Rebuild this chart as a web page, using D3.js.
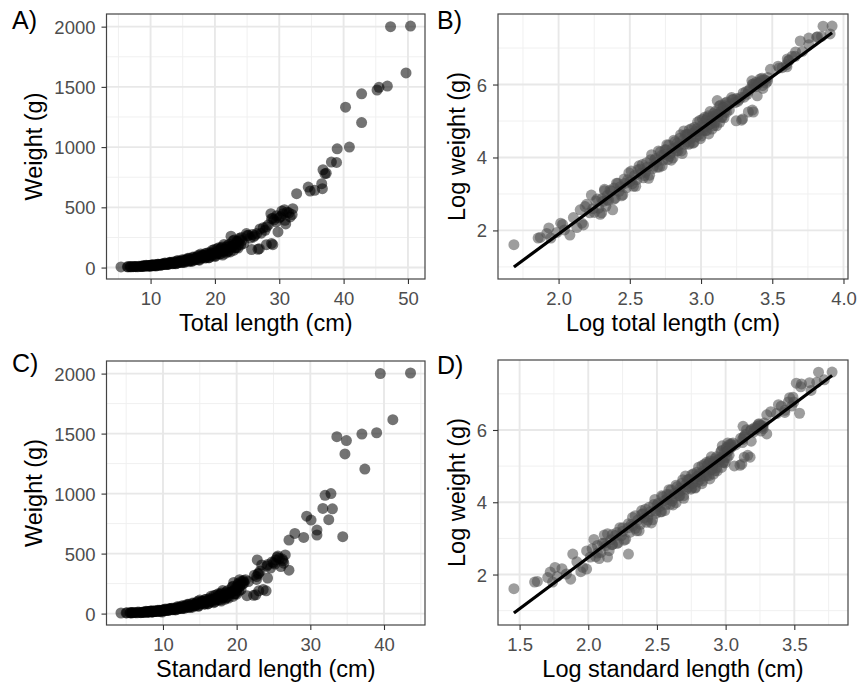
<!DOCTYPE html>
<html>
<head>
<meta charset="utf-8">
<script src="https://cdnjs.cloudflare.com/ajax/libs/d3/7.8.5/d3.min.js"></script>
<style>
  body { margin: 0; background: #fff; }
  svg text { font-family: "Liberation Sans", Arial, sans-serif; }
</style>
</head>
<body>
<svg id="chart" width="858" height="687"></svg>
<script>
/* one entry per fish, same order in the three arrays */
var totalLength = [
  5.4, 6.4, 6.5, 6.9, 7.0, 7.5, 7.6, 7.7, 8.0, 8.6,
  8.7, 8.9, 9.2, 9.3, 9.6, 9.9, 9.8, 10.0, 10.1, 10.2,
  10.3, 10.4, 10.5, 10.6, 10.8, 10.9, 11.0, 11.1, 11.3, 11.4,
  11.6, 11.7, 11.9, 12.0, 12.2, 12.3, 12.5, 12.6, 12.8, 12.9,
  13.1, 13.3, 13.4, 13.6, 13.8, 14.0, 14.1, 14.3, 14.5, 14.7,
  14.9, 15.0, 15.2, 15.4, 15.6, 15.7, 15.9, 16.0, 16.2, 16.4,
  16.5, 16.7, 16.9, 17.0, 17.2, 17.4, 17.5, 17.7, 17.9, 18.0,
  18.2, 18.4, 18.5, 18.7, 18.9, 19.0, 19.2, 19.4, 19.5, 19.7,
  19.9, 20.1, 20.2, 20.4, 20.6, 20.8, 20.9, 21.1, 21.3, 21.5,
  21.7, 21.9, 22.1, 22.3, 22.5, 22.6, 22.8, 22.9, 23.1, 23.2,
  23.4, 23.5, 23.6, 23.8, 24.0, 23.9, 24.1,
  24.9, 25.2, 25.5, 26.0, 26.5, 25.8, 25.7, 26.7, 26.9, 28.0, 29.0, 28.8,
  27.8, 28.0, 28.3, 28.7, 28.8, 29.2, 29.8, 30.2, 30.6, 30.9,
  31.2, 31.7, 32.1, 32.0, 31.0, 29.5, 30.4, 27.2, 27.5,
  32.7, 34.5, 34.8, 35.5, 36.6, 36.7, 36.8, 37.1, 37.3, 38.1, 38.9,
  39.0, 40.9, 40.3, 42.8, 42.8, 45.2, 45.5, 46.8, 49.7, 47.3, 50.4,
  8.8, 9.0, 9.4, 9.5, 9.7, 10.0, 10.2, 10.4, 10.7, 10.9,
  11.2, 11.5, 11.8, 12.1, 12.4, 12.7, 13.0, 13.2, 13.5, 13.7,
  13.9, 14.2, 14.4, 14.6, 14.8, 15.1, 15.3, 15.5, 15.8, 16.1,
  16.3, 16.6, 16.8, 17.1, 17.3, 17.6, 17.8, 18.1, 18.3, 18.6,
  18.8, 19.1, 19.3, 19.6, 19.8, 20.0, 20.3, 20.5, 20.7, 21.0,
  21.2, 21.4, 21.6, 21.8, 22.0, 22.2, 22.4, 22.7, 23.0, 23.3,
  23.7, 24.2, 24.5, 25.0, 26.2, 27.0, 29.0, 30.0, 31.5, 29.6, 30.8,
  6.8, 7.3, 8.2, 8.4
];
var standardLength = [
  4.3, 5.0, 5.1, 5.6, 5.7, 5.8, 6.1, 6.3, 6.5, 6.6,
  7.1, 7.3, 7.5, 7.7, 7.9, 8.0, 8.1, 8.3, 8.4, 8.3,
  8.6, 8.7, 8.8, 8.8, 9.9, 9.1, 9.2, 9.3, 9.4, 9.5,
  9.7, 9.9, 10.0, 10.1, 10.2, 10.4, 10.5, 10.6, 10.8, 10.9,
  11.0, 11.2, 11.3, 11.4, 11.6, 11.8, 11.9, 12.1, 12.2, 12.4,
  12.6, 12.6, 12.9, 13.0, 13.1, 13.3, 13.4, 13.5, 13.7, 13.8,
  14.0, 14.1, 14.3, 14.4, 14.5, 14.7, 14.8, 15.0, 15.1, 15.2,
  15.4, 15.6, 15.7, 15.8, 16.0, 16.1, 16.3, 16.4, 16.6, 16.7,
  16.9, 17.0, 17.1, 17.3, 17.5, 17.6, 17.8, 17.9, 18.1, 18.3,
  18.4, 18.6, 18.8, 19.0, 19.6, 19.2, 19.4, 19.5, 19.6, 19.8,
  19.9, 20.1, 20.0, 20.2, 20.3, 20.4, 20.2,
  20.4, 20.6, 20.8, 21.0, 21.2, 20.9, 21.4, 22.3, 22.6, 23.0, 24.0, 23.6,
  22.7, 23.0, 23.2, 22.8, 23.4, 24.1, 24.2, 25.0, 25.3, 26.0,
  25.8, 26.4, 26.6, 26.3, 27.1, 24.6, 25.5, 22.7, 22.9,
  27.1, 27.9, 29.1, 34.4, 30.9, 30.9, 29.5, 30.1, 32.5, 31.7, 33.0,
  32.0, 32.8, 34.7, 34.9, 37.4, 33.6, 37.0, 39.0, 41.2, 39.5, 43.6,
  7.3, 7.6, 7.9, 7.8, 8.2, 8.5, 8.5, 8.8, 9.0, 9.1,
  9.5, 9.6, 9.9, 10.2, 10.4, 10.7, 10.9, 11.1, 11.4, 11.5,
  11.7, 12.0, 12.1, 12.3, 12.5, 12.7, 12.9, 13.1, 13.3, 13.6,
  13.7, 14.0, 14.2, 14.4, 14.6, 14.8, 15.0, 15.3, 15.4, 15.7,
  15.9, 16.1, 16.3, 16.5, 16.7, 16.9, 17.2, 17.3, 17.5, 17.8,
  17.9, 18.1, 18.3, 18.4, 18.6, 18.8, 18.9, 19.2, 19.5, 19.7,
  20.0, 20.4, 20.6, 20.9, 21.6, 22.4, 24.2, 25.2, 26.2, 24.8, 25.6,
  5.5, 5.9, 6.8, 7.0
];
var weight = [
  5.0, 6.0, 6.1, 7.9, 6.0, 9.0, 8.7, 7.5, 6.5, 13.0,
  9.0, 14.2, 12.0, 19.5, 16.5, 11.5, 13.6, 17.6, 16.4, 22.0,
  14.3, 19.3, 16.9, 22.3, 13.0, 23.6, 17.9, 27.0, 21.6, 24.5,
  19.6, 30.2, 23.8, 29.6, 28.2, 37.6, 24.8, 33.4, 29.7, 39.1,
  39.7, 45.0, 31.3, 36.5, 42.1, 33.6, 51.4, 40.1, 51.0, 48.3,
  65.3, 42.0, 57.5, 50.9, 67.7, 67.3, 51.6, 77.0, 60.7, 69.5,
  53.9, 83.8, 65.0, 80.7, 75.9, 102, 65.4, 89.0, 78.3, 102,
  103, 78.4, 117, 91.8, 105, 80.8, 125, 96.3, 120, 112,
  150, 98.4, 131, 115, 165, 152, 114, 171, 134, 152,
  119, 182, 141, 177, 260, 167, 222, 143, 192, 166,
  218, 215, 162, 243, 188, 230, 250,
  282, 268, 245, 254, 282, 275, 149, 152, 157, 190, 190, 200,
  309, 337, 355, 447, 406, 396, 296, 423, 447, 392,
  460, 420, 489, 440, 362, 380, 470, 285, 330,
  613, 668, 635, 641, 696, 655, 812, 779, 783, 876, 873,
  986, 1000, 1331, 1442, 1204, 1474, 1496, 1507, 1616, 2000, 2005,
  8.6, 15.1, 13.4, 12.1, 17.5, 12.0, 22.8, 17.0, 21.7, 17.4,
  27.0, 19.1, 27.0, 35.9, 26.6, 24.8, 43.4, 35.4, 33.3, 47.4,
  30.8, 59.0, 43.2, 53.1, 41.9, 63.7, 43.4, 59.1, 77.4, 56.4,
  50.7, 87.7, 70.9, 65.6, 92.5, 60.8, 113, 83.5, 102, 80.8,
  120, 82.4, 111, 144, 103, 91.3, 156, 126, 114, 162,
  104, 192, 139, 168, 131, 193, 130, 177, 228, 164,
  191, 223, 200, 266, 267, 320, 409, 413, 454, 430, 480,
  6.8, 7.0, 10.5, 8.0
];
/* log-log regression lines: [intercept, slope] */
var fitTotal = [-3.85, 2.875];
var fitStandard = [-3.20, 2.836];

var weightTicks = [0, 500, 1000, 1500, 2000];
var totalTicks = [10, 20, 30, 40, 50];
var standardTicks = [10, 20, 30, 40];
var logWeightTicks = [2, 4, 6];
var logTotalTicks = [2.0, 2.5, 3.0, 3.5, 4.0];
var logStandardTicks = [1.5, 2.0, 2.5, 3.0, 3.5];

var svg = d3.select("#chart");
var ln = function(v){ return Math.log(v); };

function minorBreaks(ticks, domain) {
  var step = ticks[1] - ticks[0], out = [];
  for (var v = ticks[0] - step / 2; v <= domain[1]; v += step) {
    if (v >= domain[0]) out.push(v);
  }
  return out;
}

function drawPanel(p) {
  var xExt = d3.extent(p.x), yExt = d3.extent(p.y), fitPts = null;
  if (p.fit) {
    fitPts = xExt.map(function(v){ return [v, p.fit[0] + p.fit[1] * v]; });
    yExt = d3.extent(yExt.concat(fitPts.map(function(d){ return d[1]; })));
  }
  var xPad = (xExt[1] - xExt[0]) * 0.05, yPad = (yExt[1] - yExt[0]) * 0.05;
  var x = d3.scaleLinear().domain([xExt[0] - xPad, xExt[1] + xPad]).range([p.left, p.right]);
  var y = d3.scaleLinear().domain([yExt[0] - yPad, yExt[1] + yPad]).range([p.bottom, p.top]);
  var g = svg.append("g");

  /* grid */
  g.selectAll(".xminor").data(minorBreaks(p.xTicks, x.domain())).enter().append("line")
    .attr("x1", function(d){ return x(d); }).attr("x2", function(d){ return x(d); })
    .attr("y1", p.top).attr("y2", p.bottom)
    .style("stroke", "#f0f0f0").style("stroke-width", 1);
  g.selectAll(".yminor").data(minorBreaks(p.yTicks, y.domain())).enter().append("line")
    .attr("y1", function(d){ return y(d); }).attr("y2", function(d){ return y(d); })
    .attr("x1", p.left).attr("x2", p.right)
    .style("stroke", "#f0f0f0").style("stroke-width", 1);
  g.selectAll(".xmajor").data(p.xTicks).enter().append("line")
    .attr("x1", function(d){ return x(d); }).attr("x2", function(d){ return x(d); })
    .attr("y1", p.top).attr("y2", p.bottom)
    .style("stroke", "#e8e8e8").style("stroke-width", 1.9);
  g.selectAll(".ymajor").data(p.yTicks).enter().append("line")
    .attr("y1", function(d){ return y(d); }).attr("y2", function(d){ return y(d); })
    .attr("x1", p.left).attr("x2", p.right)
    .style("stroke", "#e8e8e8").style("stroke-width", 1.9);

  /* points */
  g.selectAll(".pt").data(p.x).enter().append("circle")
    .attr("cx", function(d){ return x(d); })
    .attr("cy", function(d, i){ return y(p.y[i]); })
    .attr("r", 5.5)
    .style("fill", p.color).style("fill-opacity", p.opacity);

  /* fitted line */
  if (fitPts) {
    g.append("path").datum(fitPts)
      .attr("d", d3.line().x(function(d){ return x(d[0]); }).y(function(d){ return y(d[1]); }))
      .style("stroke", "#000").style("stroke-width", 3.2).style("fill", "none");
  }

  /* border */
  g.append("rect").attr("x", p.left).attr("y", p.top)
    .attr("width", p.right - p.left).attr("height", p.bottom - p.top)
    .style("fill", "none").style("stroke", "#444").style("stroke-width", 1.2);

  /* axes */
  var xAxis = g.append("g").attr("transform", "translate(0," + p.bottom + ")")
    .call(d3.axisBottom(x).tickValues(p.xTicks).tickFormat(d3.format(p.xFormat)).tickSize(5).tickSizeOuter(0));
  var yAxis = g.append("g").attr("transform", "translate(" + p.left + ",0)")
    .call(d3.axisLeft(y).tickValues(p.yTicks).tickFormat(d3.format("d")).tickSize(5).tickSizeOuter(0));
  [xAxis, yAxis].forEach(function(a){
    a.select(".domain").remove();
    a.selectAll(".tick line").style("stroke", "#333").style("stroke-width", 1.1);
    a.selectAll(".tick text").style("font-size", "18.5px").style("fill", "#4d4d4d")
      .style("font-family", "'Liberation Sans', Arial, sans-serif");
  });
  xAxis.selectAll(".tick text").attr("y", 25.5).attr("dy", null);
  yAxis.selectAll(".tick text").attr("x", -11).attr("dy", "0.35em");

  var maxW = 0;
  yAxis.selectAll(".tick text").each(function(){ maxW = Math.max(maxW, this.getComputedTextLength()); });

  /* titles */
  g.append("text").attr("x", (p.left + p.right) / 2).attr("y", p.bottom + 51.5)
    .attr("text-anchor", "middle").style("font-size", "23.5px").style("fill", "#000")
    .text(p.xTitle);
  var tx = p.left - 11 - maxW - 12, ty = (p.top + p.bottom) / 2;
  g.append("text").attr("transform", "translate(" + tx + "," + ty + ") rotate(-90)")
    .attr("text-anchor", "middle").style("font-size", "23.5px").style("fill", "#000")
    .text(p.yTitle);
  g.append("text").attr("x", p.tagX).attr("y", p.tagY)
    .style("font-size", "25px").style("fill", "#000").text(p.tag);
}

drawPanel({
  x: totalLength, y: weight, left: 106.5, right: 425, top: 14, bottom: 279,
  xTicks: totalTicks, yTicks: weightTicks, xFormat: "d",
  color: "#000", opacity: 0.55,
  xTitle: "Total length (cm)", yTitle: "Weight (g)", tag: "A)", tagX: 12, tagY: 29
});
drawPanel({
  x: totalLength.map(ln), y: weight.map(ln), fit: fitTotal,
  left: 498, right: 848, top: 14, bottom: 279,
  xTicks: logTotalTicks, yTicks: logWeightTicks, xFormat: ".1f",
  color: "#4d4d4d", opacity: 0.55,
  xTitle: "Log total length (cm)", yTitle: "Log weight (g)", tag: "B)", tagX: 437, tagY: 29
});
drawPanel({
  x: standardLength, y: weight, left: 106.5, right: 425, top: 361, bottom: 625,
  xTicks: standardTicks, yTicks: weightTicks, xFormat: "d",
  color: "#000", opacity: 0.55,
  xTitle: "Standard length (cm)", yTitle: "Weight (g)", tag: "C)", tagX: 12, tagY: 372
});
drawPanel({
  x: standardLength.map(ln), y: weight.map(ln), fit: fitStandard,
  left: 498, right: 848, top: 360, bottom: 625,
  xTicks: logStandardTicks, yTicks: logWeightTicks, xFormat: ".1f",
  color: "#4d4d4d", opacity: 0.55,
  xTitle: "Log standard length (cm)", yTitle: "Log weight (g)", tag: "D)", tagX: 437, tagY: 374
});
</script>
</body>
</html>
